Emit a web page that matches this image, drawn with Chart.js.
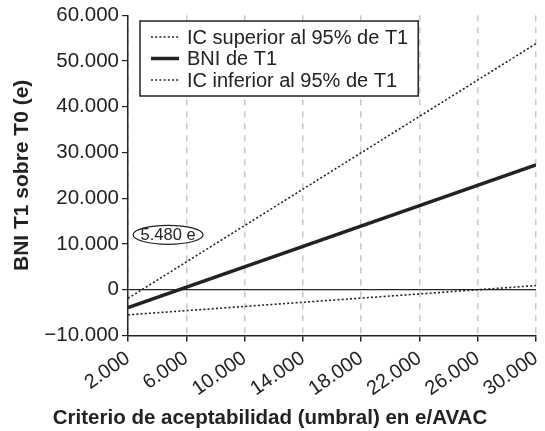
<!DOCTYPE html>
<html>
<head>
<meta charset="utf-8">
<script src="https://cdn.jsdelivr.net/npm/chart.js@4"></script>
<style>
	html, body { margin: 0; padding: 0; background: #fff; }
	#wrap { width: 545px; height: 431px; }
</style>
</head>
<body>
<div id="wrap"><canvas id="c"></canvas></div>
<script>
// umbral (e/AVAC) at both ends of the plotted range
const umbral = [2000, 30000]
const icSuperior = [-1900, 53800]
const bni = [-3900, 27300]
const icInferior = [-5500, 900]
const seriesLabels = ['IC superior al 95% de T1', 'BNI de T1', 'IC inferior al 95% de T1']
const xTicks = [2000, 6000, 10000, 14000, 18000, 22000, 26000, 30000]
const yTicks = [-10000, 0, 10000, 20000, 30000, 40000, 50000, 60000]
const umbralLabel = '5.480 e'

const FONT = '"Liberation Sans", Arial, Helvetica, sans-serif'

function fmt(v) {
	let s = Math.abs(v).toString().replace(/\B(?=(\d{3})+(?!\d))/g, '.')
	return (v < 0 ? '\u2212' : '') + s
}

const toPoints = ys => ys.map((y, i) => ({ x: umbral[i], y }))

// boxed legend drawn inside the plot, top-left
const boxLegend = {
	id: 'boxLegend',
	afterDraw(chart) {
		const ctx = chart.ctx
		const sets = chart.data.datasets
		ctx.save()
		ctx.font = '20px ' + FONT
		let maxW = 0
		sets.forEach(ds => { maxW = Math.max(maxW, ctx.measureText(ds.label).width) })
		const left = 140, top = 21, rowH = 21.5, sample = 28
		const w = 11 + sample + 8 + maxW + 10
		const h = 16 + rowH * (sets.length - 1) + 16
		ctx.fillStyle = '#fff'
		ctx.fillRect(left, top, w, h)
		ctx.strokeStyle = '#222'
		ctx.lineWidth = 1.5
		ctx.strokeRect(left, top, w, h)
		sets.forEach((ds, i) => {
			const y = top + 16 + i * rowH
			ctx.beginPath()
			ctx.strokeStyle = '#222'
			ctx.lineWidth = ds.borderWidth
			ctx.setLineDash(ds.borderDash || [])
			ctx.moveTo(left + 11, y)
			ctx.lineTo(left + 11 + sample, y)
			ctx.stroke()
			ctx.setLineDash([])
			ctx.fillStyle = '#222'
			ctx.textBaseline = 'middle'
			ctx.textAlign = 'left'
			ctx.fillText(ds.label, left + 11 + sample + 8, y + 1)
		})
		ctx.restore()
	}
}

// ellipse with the break-even threshold
const umbralNote = {
	id: 'umbralNote',
	afterDatasetsDraw(chart) {
		const ctx = chart.ctx
		const cx = chart.scales.x.getPixelForValue(4750)
		const cy = chart.scales.y.getPixelForValue(12000)
		ctx.save()
		ctx.beginPath()
		ctx.ellipse(cx, cy, 35, 9.5, 0, 0, Math.PI * 2)
		ctx.fillStyle = '#fff'
		ctx.fill()
		ctx.strokeStyle = '#222'
		ctx.lineWidth = 1.2
		ctx.stroke()
		ctx.fillStyle = '#222'
		ctx.font = '16.5px ' + FONT
		ctx.textAlign = 'center'
		ctx.textBaseline = 'middle'
		ctx.fillText(umbralLabel, cx, cy + 1)
		ctx.restore()
	}
}

const config = {
	type: 'line',
	data: {
		datasets: [
			{ label: seriesLabels[0], data: toPoints(icSuperior), borderColor: '#222', borderWidth: 1.6, borderDash: [2, 2.2], pointRadius: 0 },
			{ label: seriesLabels[1], data: toPoints(bni), borderColor: '#222', borderWidth: 3.5, pointRadius: 0 },
			{ label: seriesLabels[2], data: toPoints(icInferior), borderColor: '#222', borderWidth: 1.6, borderDash: [2, 2.2], pointRadius: 0 }
		]
	},
	options: {
		responsive: true,
		maintainAspectRatio: false,
		animation: false,
		layout: { padding: { left: 4, right: 9, top: 15, bottom: 0 } },
		scales: {
			x: {
				type: 'linear',
				min: 2000,
				max: 30000,
				afterBuildTicks: s => { s.ticks = xTicks.map(v => ({ value: v })) },
				afterFit: s => { s.height = 63; s.paddingRight = 0; s.paddingLeft = 0 },
				ticks: {
					color: '#222',
					font: { family: FONT, size: 20 },
					minRotation: 35,
					maxRotation: 35,
					padding: 5,
					callback: v => fmt(v)
				},
				grid: { color: '#c8c8c8', lineWidth: 1.5, tickColor: '#222', tickLength: 6, tickBorderDash: [] },
				border: { color: '#222', width: 1.5, dash: [6, 6] }
			},
			y: {
				min: -10000,
				max: 60000,
				afterBuildTicks: s => { s.ticks = yTicks.map(v => ({ value: v })) },
				afterFit: s => { s.width = 124 },
				ticks: {
					color: '#222',
					font: { family: FONT, size: 20.5 },
					padding: 3,
					callback: v => fmt(v)
				},
				grid: {
					color: ctx => (ctx.tick && ctx.tick.value === 0) ? '#222' : 'rgba(0,0,0,0)',
					lineWidth: 1.2,
					tickColor: '#222',
					tickLength: 6
				},
				border: { color: '#222', width: 1.5 },
				title: {
					display: true,
					text: 'BNI T1 sobre T0 (e)',
					color: '#222',
					font: { family: FONT, size: 21, weight: 'bold' },
					padding: { top: 6, bottom: 0 }
				}
			}
		},
		plugins: {
			legend: { display: false },
			tooltip: { enabled: false },
			title: {
				display: true,
				position: 'bottom',
				text: 'Criterio de aceptabilidad (umbral) en e/AVAC',
				color: '#222',
				font: { family: FONT, size: 20.5, weight: 'bold' },
				padding: { top: 8, bottom: 0 }
			}
		}
	},
	plugins: [umbralNote, boxLegend]
}

new Chart(document.getElementById('c'), config)
</script>
</body>
</html>
